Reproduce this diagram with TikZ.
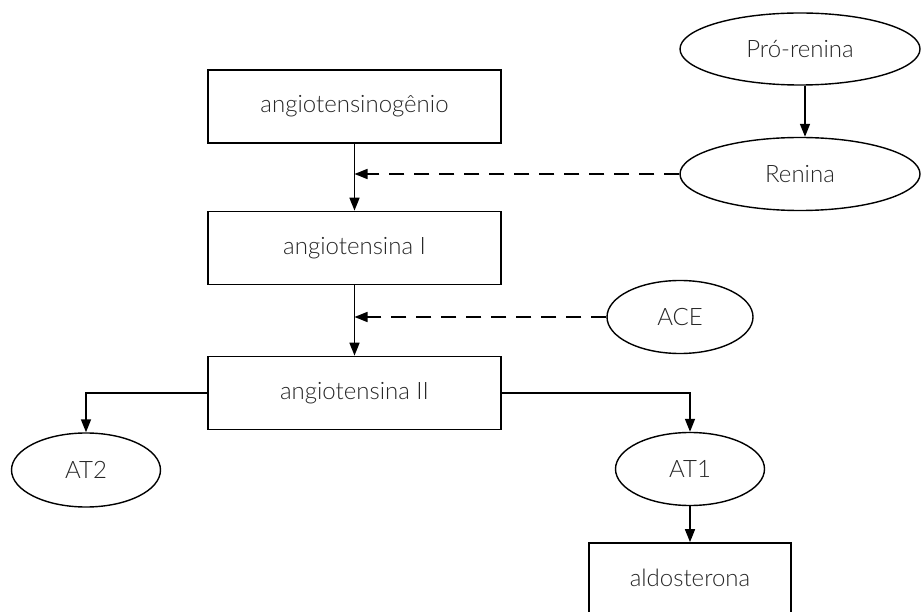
\documentclass[tikz,border=0pt]{standalone}
\usepackage{fontspec}
\setmainfont{Lato}[UprightFont=* Light]
\usetikzlibrary{arrows.meta,shapes.geometric}
\begin{document}
\begin{tikzpicture}[x=1pt,y=-1pt,
  every node/.style={font=\fontsize{24}{27}\selectfont, text=black!85},
  stepbox/.style={draw, line width=1.7pt, minimum width=293pt, minimum height=73pt, inner sep=0pt},
  oval/.style={draw, ellipse, line width=1.4pt, inner sep=0pt},
  flow/.style={line width=1.6pt, -{Triangle[length=13pt,width=10pt]}},
  helper/.style={line width=1.6pt, dash pattern=on 15pt off 10pt, -{Triangle[length=13pt,width=10pt]}}]
  \useasboundingbox (0,0) rectangle (921,612);
  % main cascade
  \node[stepbox] (agt) at (354.5,106.5) {angiotensinogênio};
  \node[stepbox] (ang1) at (354.5,248) {angiotensina I};
  \node[stepbox] (ang2) at (354.5,393) {angiotensina II};
  \node[draw, line width=1.7pt, minimum width=202pt, minimum height=90pt, inner sep=0pt] (aldo) at (690,588) {};
  \node at (690,578) {aldosterona};
  % enzymes and receptors
  \node[oval, minimum width=240pt, minimum height=72pt] (pro) at (800,49) {Pró-renina};
  \node[oval, minimum width=240pt, minimum height=73pt] (ren) at (800,174) {Renina};
  \node[oval, minimum width=146pt, minimum height=73pt] (ace) at (680,317) {ACE};
  \node[oval, minimum width=149pt, minimum height=74pt] (at2) at (86,470) {AT2};
  \node[oval, minimum width=149pt, minimum height=73pt] (at1) at (690,469) {AT1};
  % junction points on the cascade
  \coordinate (j1) at (354.5,174);
  \coordinate (j2) at (354.5,317);
  % connectors
  \draw[flow] (agt.south) -- (ang1.north);
  \draw[flow] (ang1.south) -- (ang2.north);
  \draw[flow] (pro.south -| 805,0) -- (ren.north -| 805,0);
  \draw[helper] (ren.west) -- (j1);
  \draw[helper] (ace.west) -- (j2);
  \draw[flow] (ang2.west) -| (at2.north);
  \draw[flow] (ang2.east) -| (at1.north);
  \draw[flow] (at1.south) -- (aldo.north);
\end{tikzpicture}
\end{document}
